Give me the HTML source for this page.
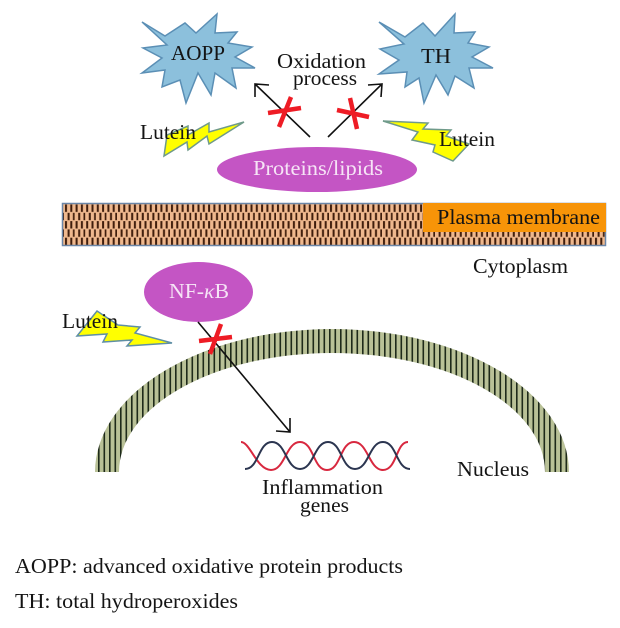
<!DOCTYPE html>
<html><head><meta charset="utf-8"><style>
html,body{margin:0;padding:0;background:#fff;width:620px;height:628px;overflow:hidden}
svg{display:block}
text{font-family:"Liberation Serif",serif;font-size:21.5px;fill:#141414}
</style></head><body>
<svg width="620" height="628" viewBox="0 0 620 628" xmlns="http://www.w3.org/2000/svg">
<defs>
<pattern id="brick" width="10.6" height="16.6" patternUnits="userSpaceOnUse" x="64" y="204.500">
<rect width="10.6" height="16.6" fill="#efb88e"/>
<rect x="1" y="0" width="2" height="7.400" fill="#3f1d0c"/>
<rect x="6.3" y="0" width="2" height="7.400" fill="#3f1d0c"/>
<rect x="3.6" y="8.300" width="2" height="7.400" fill="#3f1d0c"/>
<rect x="8.9" y="8.300" width="2" height="7.400" fill="#3f1d0c"/>
</pattern>
<pattern id="stripe" width="5.5" height="10" patternUnits="userSpaceOnUse" x="96">
<rect width="5.5" height="10" fill="#b9c197"/>
<rect x="2" width="1.600" height="10" fill="#1e2a1a"/>
</pattern>
</defs>
<polygon fill="#8cc0dc" stroke="#5b8fb5" stroke-width="1.5" points="142,22 165,36 185,23 196,33 217,14 215,33 237,32 228,43 252,47 235,57 255,68 232,68 236,88 215,73 211,95 198,73 186,103 180,80 162,87 165,70 142,73 162,58 143,48 167,45"/>
<polygon fill="#8cc0dc" stroke="#5b8fb5" stroke-width="1.5" points="379,22 405,37 423,23 435,36 455,14 454,33 475,32 468,43 489,47 472,57 493,68 469,68 474,88 455,76 448,95 436,75 424,103 419,78 405,87 407,72 379,74 399,60 380,49 404,44"/>
<polygon fill="#ffff00" stroke="#6f9a8a" stroke-width="1.5" points="164,156 167,135 188,126 188,135 209,123 209,132 244,122 209,144 207,136 188,150 187,142"/>
<polygon fill="#ffff00" stroke="#6f9a8a" stroke-width="1.5" points="383,121 428,123 423,129 451,130 446,136 469,144 453,161 433,152 435,145 412,140 418,132"/>
<polygon fill="#ffff00" stroke="#5f8fa5" stroke-width="1.5" points="77,336 97,311 118,325 140,327 135,333 172,343 127,346 132,340 103,342 107,334"/>
<ellipse cx="317" cy="169.5" rx="100" ry="22.5" fill="#c455c4"/>
<rect x="62.5" y="203.5" width="543" height="42" fill="url(#brick)" stroke="#6a86a8" stroke-width="1.5"/>
<rect x="423" y="203" width="183" height="29" fill="#f79408"/>
<path d="M95,472 A237,143 0 0 1 569,472 L545,472 A213,119 0 0 0 119,472 Z" fill="url(#stripe)"/>
<ellipse cx="198.5" cy="292" rx="54.500" ry="30" fill="#c455c4"/>
<g fill="none" stroke="#111" stroke-width="1.6">
<path d="M310,137 L255,84 M255,97 L255,84 L269,85"/>
<path d="M328,137 L382,84 M368,85 L382,84 L381,97"/>
<path d="M198,322 L290,432 M290,418 L290,432 L276,431"/>
</g>
<g fill="none" stroke="#ee1c25" stroke-width="4.5">
<path d="M291,97 L279,127 M268,113 L301,108"/>
<path d="M350,98 L357,129 M337,110 L369,117"/>
<path d="M221,324 L210,354 M199,341 L232,337"/>
</g>
<g fill="none" stroke-width="2">
<path stroke="#d8283f" d="M241,442 C250,442 257,470 271,470 C285,470 286,442 300,442 C314,442 313,470 327,470 C341,470 340,442 354,442 C368,442 369,470 383,470 C397,470 396,442 408,442"/>
<path stroke="#2b3550" d="M245,469 C259,469 258,442 272,442 C286,442 286,469 300,469 C314,469 314,442 328,442 C342,442 341,469 355,469 C369,469 369,442 383,442 C397,442 396,469 410,469"/>
</g>
<text x="171" y="60" textLength="54" lengthAdjust="spacingAndGlyphs">AOPP</text>
<text x="421" y="63" textLength="30" lengthAdjust="spacingAndGlyphs">TH</text>
<text x="277" y="68" textLength="89" lengthAdjust="spacingAndGlyphs">Oxidation</text>
<text x="293" y="85" textLength="64" lengthAdjust="spacingAndGlyphs">process</text>
<text x="140" y="139" textLength="56" lengthAdjust="spacingAndGlyphs">Lutein</text>
<text x="439" y="146" textLength="56" lengthAdjust="spacingAndGlyphs">Lutein</text>
<text x="62" y="328" textLength="56" lengthAdjust="spacingAndGlyphs">Lutein</text>
<text x="253" y="175" textLength="130" lengthAdjust="spacingAndGlyphs" style="fill:#f6e4f6">Proteins/lipids</text>
<text x="169" y="298" textLength="60" lengthAdjust="spacingAndGlyphs" style="fill:#f6e4f6">NF-<tspan font-style="italic">κ</tspan>B</text>
<text x="437" y="224" textLength="163" lengthAdjust="spacingAndGlyphs">Plasma membrane</text>
<text x="473" y="273" textLength="95" lengthAdjust="spacingAndGlyphs">Cytoplasm</text>
<text x="457" y="476" textLength="72" lengthAdjust="spacingAndGlyphs">Nucleus</text>
<text x="262" y="494" textLength="121" lengthAdjust="spacingAndGlyphs">Inflammation</text>
<text x="300" y="512" textLength="49" lengthAdjust="spacingAndGlyphs">genes</text>
<text x="15" y="573" textLength="388" lengthAdjust="spacingAndGlyphs">AOPP: advanced oxidative protein products</text>
<text x="15" y="608" textLength="223" lengthAdjust="spacingAndGlyphs">TH: total hydroperoxides</text>
</svg>
</body></html>
